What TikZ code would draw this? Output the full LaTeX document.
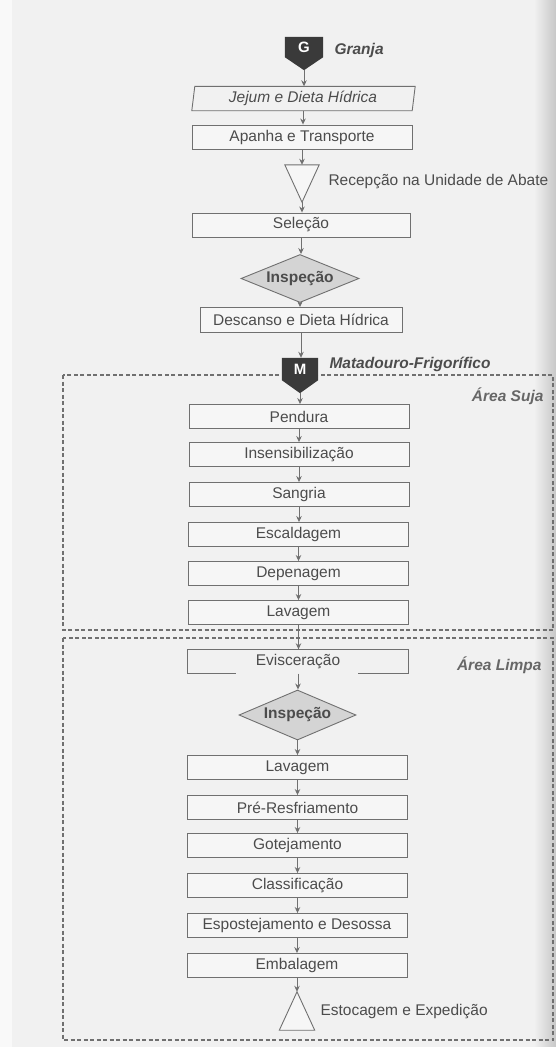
\documentclass[tikz,border=0pt]{standalone}
\usepackage{fontspec}
\setmainfont{Liberation Sans}
\usetikzlibrary{arrows.meta,shapes.geometric}
\definecolor{bg}{HTML}{F1F1F1}
\definecolor{ln}{HTML}{707070}
\definecolor{tx}{HTML}{4C4C4C}
\definecolor{dk}{HTML}{3A3A3A}
\definecolor{dfill}{HTML}{D4D4D4}
\definecolor{boxfill}{HTML}{F6F6F6}
\begin{document}
\begin{tikzpicture}[x=1pt,y=-1pt,
  txt/.style={text=tx,font=\fontsize{15.5}{18}\selectfont},
  stepbox/.style={txt,draw=ln,line width=0.9pt,fill=boxfill,minimum width=220pt,minimum height=24pt,inner sep=0pt},
  ghostbox/.style={txt,minimum width=220pt,minimum height=24pt,inner sep=0pt},
  decision/.style={txt,diamond,draw=ln,line width=0.9pt,fill=dfill,minimum width=118pt,minimum height=48pt,inner sep=0pt,aspect=2.4,font=\fontsize{15.5}{18}\selectfont\bfseries},
  marker/.style={minimum width=38pt,minimum height=33pt,inner sep=0pt},
  tri/.style={minimum width=34pt,minimum height=37pt,inner sep=0pt},
  flow/.style={-{Stealth[length=6pt,width=5.5pt]},draw=ln,line width=0.9pt},
  area/.style={draw=ln,line width=1.2pt,dash pattern=on 4pt off 2.5pt},
  side/.style={txt,anchor=west},
  headlbl/.style={txt,anchor=west,font=\fontsize{15.5}{18}\selectfont\bfseries\itshape},
  arealbl/.style={txt,anchor=east,text=tx!85,font=\fontsize{15.5}{18}\selectfont\bfseries\itshape}]
\useasboundingbox (0,0) rectangle (556,1047);
\clip (0,0) rectangle (556,1047);
% page
\fill[bg] (0,0) rectangle (556,1047);
\fill[white!55!bg] (0,0) rectangle (12,1047);
\shade[left color=bg,right color=black!22] (534,0) rectangle (556,1047);
% areas
\draw[area] (63,375) rectangle (553,630);
\draw[area] (63,638) rectangle (553,1040);
% nodes
\node[marker] (g) at (304,53.5) {};
\node[ghostbox,font=\fontsize{15.5}{18}\selectfont\itshape] (jejum) at (303,98.5) {Jejum e Dieta Hídrica};
\node[stepbox] (apanha) at (302,137) {Apanha e Transporte};
\node[tri] (t1) at (302,183.5) {};
\node[stepbox,minimum width=218pt] (selecao) at (301,225) {Seleção};
\node[decision] (insp1) at (300,278.5) {Inspeção};
\node[stepbox,minimum width=202pt,minimum height=25pt] (descanso) at (301,320) {Descanso e Dieta Hídrica};
\node[marker,minimum width=36pt,minimum height=35pt] (m) at (300,375.5) {};
\node[stepbox] (pendura) at (299,416.5) {Pendura};
\node[stepbox] (insens) at (299,454.5) {Insensibilização};
\node[stepbox] (sangria) at (299,494.5) {Sangria};
\node[stepbox] (escald) at (298.5,534.5) {Escaldagem};
\node[stepbox] (depen) at (298.5,573.5) {Depenagem};
\node[stepbox] (lav1) at (298.5,612.5) {Lavagem};
\node[ghostbox] (evisc) at (298,661.5) {Evisceração};
\node[decision,minimum width=117pt,minimum height=50pt] (insp2) at (297.5,715) {Inspeção};
\node[stepbox] (lav2) at (297.5,767.5) {Lavagem};
\node[stepbox] (pre) at (297.5,807.5) {Pré-Resfriamento};
\node[stepbox] (got) at (297.5,845.5) {Gotejamento};
\node[stepbox] (class) at (297.5,885.5) {Classificação};
\node[stepbox] (espost) at (297,925.5) {Espostejamento e Desossa};
\node[stepbox] (embal) at (297,965.5) {Embalagem};
\node[tri,minimum width=35pt,minimum height=38pt] (t2) at (297,1011) {};
% special outlines
\fill[dk] (g.north west) -- (g.north east) -- ([yshift=13pt]g.south east) -- (g.south) -- ([yshift=13pt]g.south west) -- cycle;
\node[text=white,font=\fontsize{15}{18}\selectfont\bfseries] (gl) at ([yshift=6pt]g.center) {G};
\fill[dk] (m.north west) -- (m.north east) -- ([yshift=13pt]m.south east) -- (m.south) -- ([yshift=13pt]m.south west) -- cycle;
\node[text=white,font=\fontsize{15}{18}\selectfont\bfseries] (ml) at ([yshift=6pt]m.center) {M};
\draw[ln,line width=0.9pt] ([xshift=2pt]jejum.north west) -- ([xshift=2pt]jejum.north east) -- ([xshift=-1pt]jejum.south east) -- ([xshift=-1pt]jejum.south west) -- cycle;
\draw[ln,line width=0.9pt,fill=boxfill] (t1.north west) -- (t1.north east) -- (t1.south) -- cycle;
\draw[ln,line width=0.9pt,fill=boxfill] (t2.south west) -- (t2.south east) -- (t2.north) -- cycle;
\draw[ln,line width=0.9pt] (evisc.south west) -- (evisc.north west) -- (evisc.north east) -- (evisc.south east);
\draw[ln,line width=0.9pt] (evisc.south west) -- ++(48,0);
\draw[ln,line width=0.9pt] (evisc.south east) -- ++(-50,0);
% labels
\node[headlbl] (granja) at (331,50) {Granja};
\node[side] (recep) at (325,182) {Recepção na Unidade de Abate};
\node[headlbl] (matad) at (326,364) {Matadouro-Frigorífico};
\node[arealbl] (suja) at (547,396) {Área Suja};
\node[arealbl] (limpa) at (545,665) {Área Limpa};
\node[side] (estoc) at (317,1012) {Estocagem e Expedição};
% connectors
\draw[flow] (g.south) -- (g.south |- jejum.north);
\draw[flow] (jejum.south) -- (jejum.south |- apanha.north);
\draw[flow] (apanha.south) -- (apanha.south |- t1.north);
\draw[flow] (t1.south) -- (t1.south |- selecao.north);
\draw[flow] (selecao.south) -- (selecao.south |- insp1.north);
\draw[flow] (insp1.south) -- (insp1.south |- descanso.north);
\draw[flow] (descanso.south) -- (descanso.south |- m.north);
\draw[flow] (m.south) -- (m.south |- pendura.north);
\draw[flow] (pendura.south) -- (pendura.south |- insens.north);
\draw[flow] (insens.south) -- (insens.south |- sangria.north);
\draw[flow] (sangria.south) -- (sangria.south |- escald.north);
\draw[flow] (escald.south) -- (escald.south |- depen.north);
\draw[flow] (depen.south) -- (depen.south |- lav1.north);
\draw[flow] (lav1.south) -- (lav1.south |- evisc.north);
\draw[flow] (evisc.south) -- (evisc.south |- insp2.north);
\draw[flow] (insp2.south) -- (insp2.south |- lav2.north);
\draw[flow] (lav2.south) -- (lav2.south |- pre.north);
\draw[flow] (pre.south) -- (pre.south |- got.north);
\draw[flow] (got.south) -- (got.south |- class.north);
\draw[flow] (class.south) -- (class.south |- espost.north);
\draw[flow] (espost.south) -- (espost.south |- embal.north);
\draw[flow] (embal.south) -- (t2.north);
\end{tikzpicture}
\end{document}
